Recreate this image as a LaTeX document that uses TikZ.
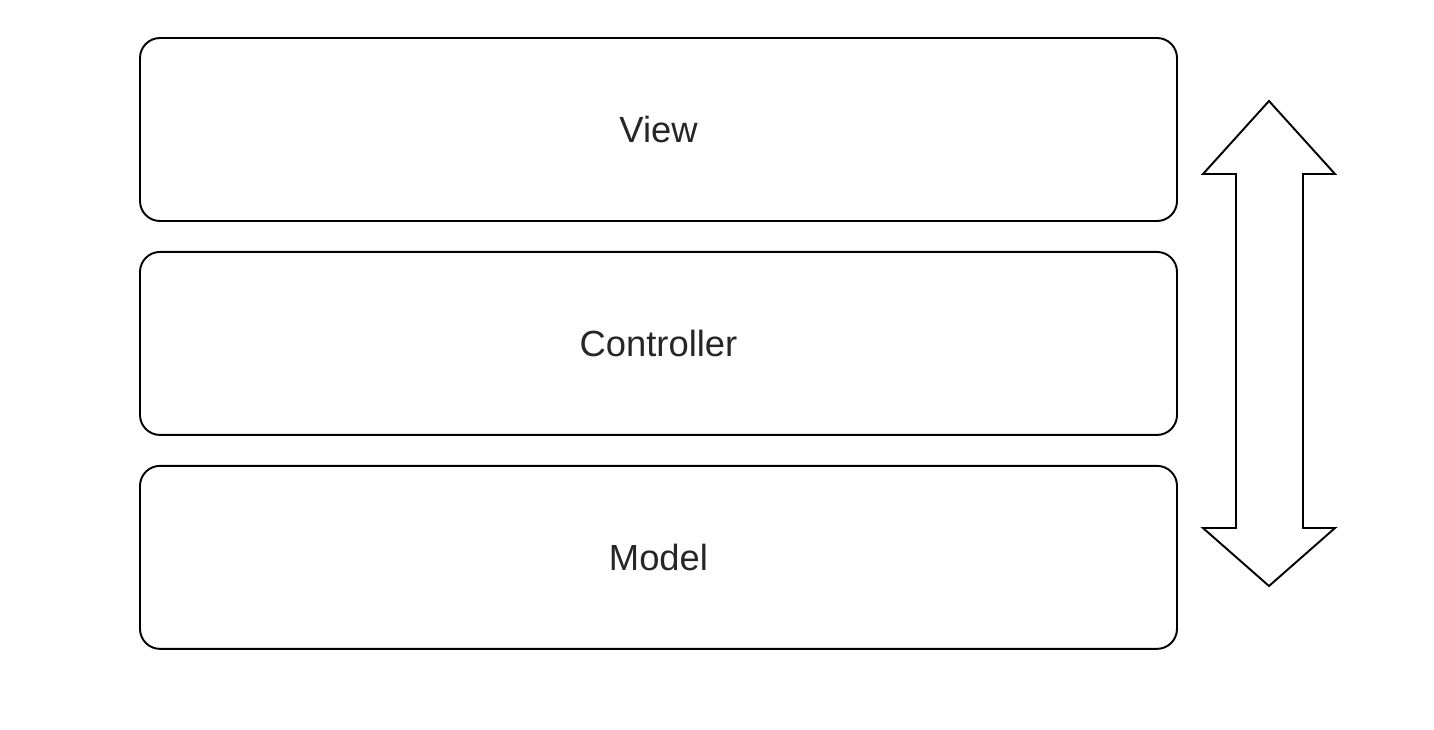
\documentclass[tikz,border=0pt]{standalone}
\usepackage{fontspec}
\setmainfont{Liberation Sans}
\usepackage{tikz}
\usetikzlibrary{positioning}

\tikzset{
  layer/.style={draw=black,line width=1.1pt,rounded corners=0.4cm,
    minimum width=20.74cm,minimum height=3.66cm,inner sep=0pt,
    font=\fontsize{20.7}{25}\selectfont,text=black!85},
}

\begin{document}
\begin{tikzpicture}
                      \useasboundingbox (0,0) rectangle (28.68,-14.6);
                      \node[layer](view)at(13.17,-2.59){View};
                      \node[layer,below=0.58cm of view](controller){Controller};
                      \node[layer,below=0.58cm of controller](model){Model};
                      % double arrow on the right
                      \draw[line width=1.1pt,line join=miter,fill=white]
                        (25.38,-2.02) -- (26.70,-3.48) -- (26.06,-3.48) -- (26.06,-10.56)
                        -- (26.70,-10.56) -- (25.38,-11.72) -- (24.06,-10.56) -- (24.72,-10.56)
                        -- (24.72,-3.48) -- (24.06,-3.48) -- cycle;
                  \end{tikzpicture}
\end{document}
